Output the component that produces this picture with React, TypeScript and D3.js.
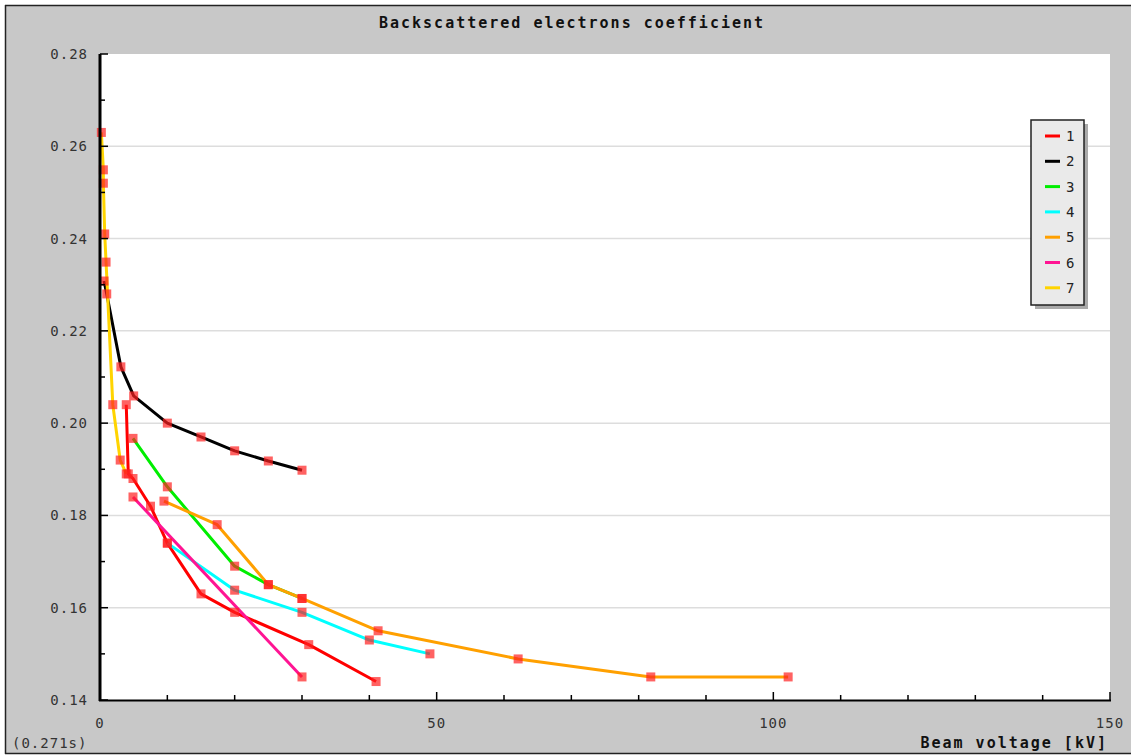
import React from "react";
import * as d3 from "d3";

type Pt = [number, number];

const seriesNames = ["1", "2", "3", "4", "5", "6", "7"];
const seriesColors = ["#ff0000", "#000000", "#00ee00", "#00ffff", "#ffa000", "#ff1493", "#ffd400"];

const s1: Pt[] = [[3.9, 0.204], [4.2, 0.189], [4.9, 0.188], [7.5, 0.182], [10, 0.174], [15, 0.163], [20, 0.159], [31, 0.152], [41, 0.144]];
const s2: Pt[] = [[0.6, 0.2308], [1.0, 0.228], [3.1, 0.2122], [5.0, 0.2059], [10, 0.2], [15, 0.197], [20, 0.194], [25, 0.1918], [30, 0.1898]];
const s3: Pt[] = [[4.9, 0.1967], [10, 0.1862], [20, 0.169], [25, 0.165], [30, 0.162]];
const s4: Pt[] = [[10, 0.174], [20, 0.1638], [30, 0.159], [40, 0.153], [49, 0.15]];
const s5: Pt[] = [[9.5, 0.1831], [17.4, 0.178], [25, 0.165], [30, 0.162], [41.3, 0.155], [62.1, 0.1489], [81.8, 0.145], [102.2, 0.145]];
const s6: Pt[] = [[4.9, 0.184], [30, 0.145]];
const s7: Pt[] = [[0.2, 0.263], [0.5, 0.2549], [0.5, 0.252], [0.7, 0.241], [0.9, 0.2349], [1.9, 0.204], [3.0, 0.192], [3.9, 0.189]];
const seriesData: Pt[][] = [s1, s2, s3, s4, s5, s6, s7];

const yGridTicks = [0.14, 0.16, 0.18, 0.2, 0.22, 0.24, 0.26, 0.28];
const yMinorTicks = [0.15, 0.17, 0.19, 0.21, 0.23, 0.25, 0.27];
const xLabelTicks = [0, 50, 100, 150];
const xMinorTicks = [10, 20, 30, 40, 60, 70, 80, 90, 110, 120, 130, 140];

const title = "Backscattered electrons coefficient";
const xTitle = "Beam voltage [kV]";
const timing = "(0.271s)";

export default function App() {
  const W = 1131, H = 756;
  const x = d3.scaleLinear().domain([0, 150]).range([100, 1110]);
  const y = d3.scaleLinear().domain([0.14, 0.28]).range([700, 54]);
  const line = d3.line<Pt>().x(d => x(d[0])).y(d => y(d[1]));
  const mono = "'DejaVu Sans Mono', 'Liberation Mono', monospace";

  const legX = 1031, legY = 120, legW = 53, legH = 185;

  return (
    <div style={{ position: "absolute", left: 0, top: 0 }}>
      <svg width={W} height={H} style={{ display: "block" }}>
        <rect x={0} y={0} width={W} height={H} fill="#ffffff" />
        <rect x={5} y={5.5} width={W - 5} height={748} fill="#c8c8c8" />
        <line x1={5.5} y1={5} x2={5.5} y2={754} stroke="#222" strokeWidth={1.5} />
        <line x1={5} y1={5.5} x2={W} y2={5.5} stroke="#222" strokeWidth={1.5} />
        <line x1={5} y1={753.5} x2={W} y2={753.5} stroke="#222" strokeWidth={1.5} />

        <text x={572} y={28} textAnchor="middle" fontFamily={mono} fontWeight="bold" fontSize={15} letterSpacing={2} fill="#111">{title}</text>

        <rect x={x(0)} y={y(0.28)} width={x(150) - x(0)} height={y(0.14) - y(0.28)} fill="#ffffff" />

        {yGridTicks.filter(t => t > 0.14 && t < 0.28).map(t => (
          <line key={"g" + t} x1={x(0)} x2={x(150)} y1={y(t)} y2={y(t)} stroke="#dddddd" strokeWidth={1.5} />
        ))}

        {seriesData.map((d, i) => (
          <path key={"l" + i} d={line(d) || ""} fill="none" stroke={seriesColors[i]} strokeWidth={3} strokeLinejoin="round" />
        ))}
        {seriesData.map((d, i) => d.map((p, j) => (
          <rect key={"m" + i + "-" + j} x={x(p[0]) - 4.5} y={y(p[1]) - 4.5} width={9} height={9} fill="#ff2020" fillOpacity={0.7} />
        )))}

        {/* axes */}
        <line x1={100} x2={100} y1={y(0.28)} y2={y(0.14) + 1} stroke="#000" strokeWidth={3} />
        <line x1={99} x2={x(150) + 1} y1={700.5} y2={700.5} stroke="#000" strokeWidth={2} />
        {yGridTicks.map(t => (
          <line key={"yt" + t} x1={100} x2={108} y1={y(t)} y2={y(t)} stroke="#000" strokeWidth={1.5} />
        ))}
        {yMinorTicks.map(t => (
          <line key={"ym" + t} x1={100} x2={105} y1={y(t)} y2={y(t)} stroke="#000" strokeWidth={1.5} />
        ))}
        {xLabelTicks.map(t => (
          <line key={"xt" + t} x1={x(t)} x2={x(t)} y1={700} y2={692} stroke="#000" strokeWidth={1.5} />
        ))}
        {xMinorTicks.map(t => (
          <line key={"xm" + t} x1={x(t)} x2={x(t)} y1={700} y2={695} stroke="#000" strokeWidth={1.5} />
        ))}

        {yGridTicks.map(t => (
          <text key={"yl" + t} x={88} y={y(t) + 5} textAnchor="end" fontFamily={mono} fontSize={14} letterSpacing={1} fill="#333">{t.toFixed(2)}</text>
        ))}
        {xLabelTicks.map(t => (
          <text key={"xl" + t} x={x(t)} y={728} textAnchor="middle" fontFamily={mono} fontSize={14} letterSpacing={1} fill="#333">{String(t)}</text>
        ))}
        <text x={1108} y={748} textAnchor="end" fontFamily={mono} fontWeight="bold" fontSize={15} letterSpacing={2} fill="#111">{xTitle}</text>
        <text x={12} y={748} fontFamily={mono} fontSize={14} letterSpacing={1} fill="#333">{timing}</text>

        {/* legend */}
        <rect x={legX + 4} y={legY + 4} width={legW} height={legH} fill="#aaaaaa" />
        <rect x={legX} y={legY} width={legW} height={legH} fill="#eaeaea" stroke="#222" strokeWidth={1.5} />
        {seriesNames.map((n, i) => {
          const ly = 136 + i * 25.3;
          return (
            <g key={"lg" + i}>
              <line x1={1045} x2={1060} y1={ly} y2={ly} stroke={seriesColors[i]} strokeWidth={3} />
              <text x={1066} y={ly + 5} fontFamily={mono} fontSize={14} fill="#222">{n}</text>
            </g>
          );
        })}
      </svg>
    </div>
  );
}
